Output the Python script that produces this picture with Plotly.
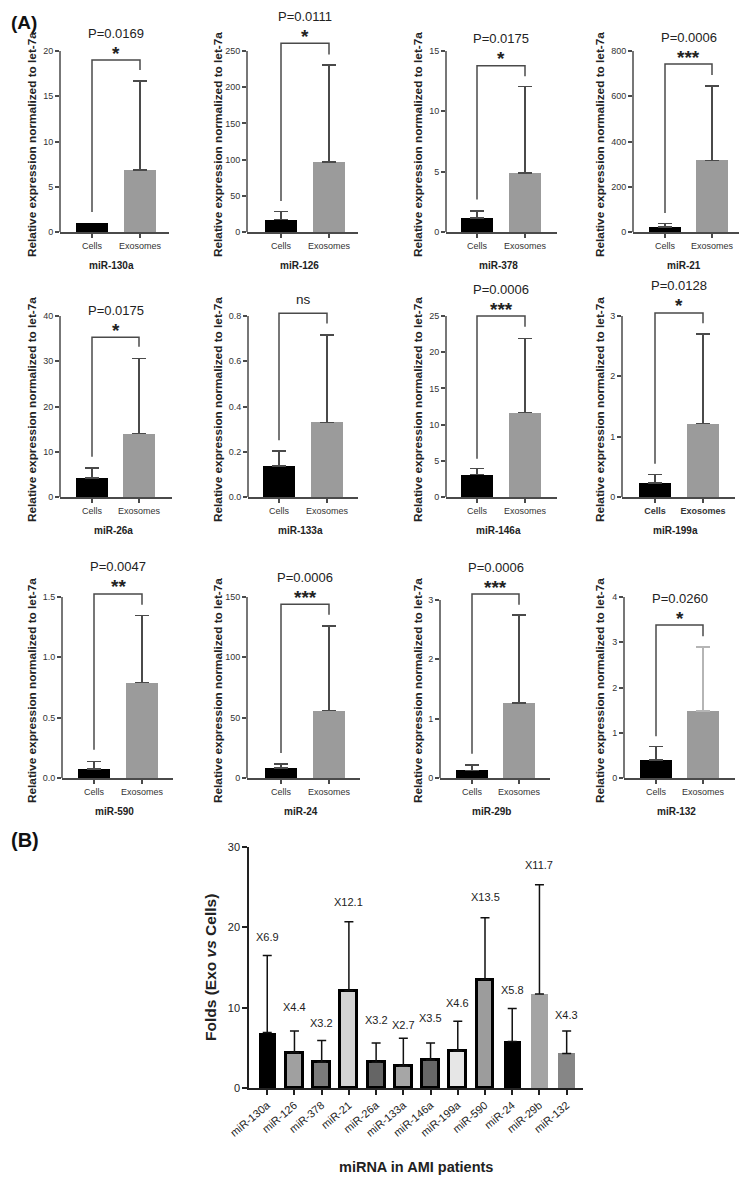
import plotly.graph_objects as go

# ---------------- DATA ----------------
groups = ["Cells", "Exosomes"]
mirnas = ["miR-130a", "miR-126", "miR-378", "miR-21", "miR-26a", "miR-133a",
          "miR-146a", "miR-199a", "miR-590", "miR-24", "miR-29b", "miR-132"]

cells_mean = [1.0, 17.2, 1.16, 22, 4.2, 0.136, 3.1, 0.23, 0.075, 8.3, 0.13, 0.40]
cells_upper = [1.0, 28.2, 1.74, 37, 6.4, 0.204, 3.94, 0.37, 0.138, 11.7, 0.22, 0.70]
exo_mean = [6.85, 96.9, 4.87, 317, 14.0, 0.33, 11.67, 1.22, 0.79, 55.8, 1.26, 1.48]
exo_upper = [16.7, 230.7, 12.07, 645, 30.6, 0.717, 21.9, 2.70, 1.345, 125.8, 2.75, 2.90]

p_values = ["P=0.0169", "P=0.0111", "P=0.0175", "P=0.0006", "P=0.0175", "",
            "P=0.0006", "P=0.0128", "P=0.0047", "P=0.0006", "P=0.0006", "P=0.0260"]
signif = ["*", "*", "*", "***", "*", "ns", "***", "*", "**", "***", "***", "*"]

bracket_top = [19.0, 260.7, 13.78, 742, 35.3, 0.812, 25.0, 3.05, 1.525, 143.9, 3.10, 3.38]
bracket_left_end = [2.2, 42.9, 2.7, 84, 8.9, 0.251, 5.3, 0.55, 0.235, 20.8, 0.41, 0.92]
bracket_right_end = [17.9, 245, 12.9, 694, 33.2, 0.767, 23.5, 2.88, 1.436, 135.3, 2.92, 3.13]

y_ticks = [
    [0, 5, 10, 15, 20],
    [0, 50, 100, 150, 200, 250],
    [0, 5, 10, 15],
    [0, 200, 400, 600, 800],
    [0, 10, 20, 30, 40],
    [0.0, 0.2, 0.4, 0.6, 0.8],
    [0, 5, 10, 15, 20, 25],
    [0, 1, 2, 3],
    [0.0, 0.5, 1.0, 1.5],
    [0, 50, 100, 150],
    [0, 1, 2, 3],
    [0, 1, 2, 3, 4],
]
y_ticktext = [
    ["0", "5", "10", "15", "20"],
    ["0", "50", "100", "150", "200", "250"],
    ["0", "5", "10", "15"],
    ["0", "200", "400", "600", "800"],
    ["0", "10", "20", "30", "40"],
    ["0.0", "0.2", "0.4", "0.6", "0.8"],
    ["0", "5", "10", "15", "20", "25"],
    ["0", "1", "2", "3"],
    ["0.0", "0.5", "1.0", "1.5"],
    ["0", "50", "100", "150"],
    ["0", "1", "2", "3"],
    ["0", "1", "2", "3", "4"],
]

fold_mean = [6.9, 4.4, 3.2, 12.1, 3.2, 2.7, 3.5, 4.6, 13.5, 5.8, 11.7, 4.3]
fold_upper = [16.5, 7.1, 5.9, 20.7, 5.6, 6.2, 5.6, 8.3, 21.2, 9.9, 25.3, 7.1]
fold_labels = ["X6.9", "X4.4", "X3.2", "X12.1", "X3.2", "X2.7",
               "X3.5", "X4.6", "X13.5", "X5.8", "X11.7", "X4.3"]
fold_ticks = [0, 10, 20, 30]

# ---------------- STYLE / LAYOUT ----------------
PAGE_W, PAGE_H = 747, 1181
BODY = 8                      # default page margin around the plot div
W, H = PAGE_W - BODY, PAGE_H - BODY
FONT = "Arial, Liberation Sans, Helvetica, sans-serif"
AX = "#4a4a4a"

def xp(px):
    return (px - BODY) / W

def yp(px):
    return 1 - (px - BODY) / H

# (y-axis px, x-axis end px, cells px, exo px, zero px, top-tick px) in page pixels
geom = [
    (60, 169, 92, 140, 232, 51), (247, 358, 281, 329, 232, 51),
    (446, 557, 477, 525, 232, 51), (633, 740, 665, 712, 232, 51),
    (60, 172, 92, 139, 497, 316), (248, 358, 279, 327, 497, 316),
    (446, 557, 477, 525, 497, 316), (622, 735, 655, 703, 497, 316),
    (62, 173, 94, 142, 778, 597), (247, 360, 281, 329, 778, 597),
    (440, 550, 472, 519, 778, 600), (624, 735, 656, 703, 778, 597),
]
EXT = 1.15
ytitle_x = [32, 218, 418, 600]
ytitle_y = [145, 410, 691]

exo_err_color = [AX] * 11 + ["#b5b5b5"]

fig = go.Figure()
shapes = []
annotations = []

def paper_text(x, y, text, size, angle=0, color="#222"):
    return dict(x=xp(x), y=yp(y), xref="paper", yref="paper", text=text, textangle=angle,
                showarrow=False, xanchor="center", yanchor="middle",
                font=dict(size=size, family=FONT, color=color))

for i in range(12):
    n = i + 1
    xa = "x" if n == 1 else f"x{n}"
    ya = "y" if n == 1 else f"y{n}"
    axp, endp, cp, ep, y0p, ytp = geom[i]
    sp = ep - cp
    r0 = -(cp - axp) / sp
    r1 = 1 + (endp - ep) / sp
    top = y_ticks[i][-1]
    dom_top_px = y0p - (y0p - ytp) * EXT

    fig.add_trace(go.Bar(
        x=[0], y=[cells_mean[i]], width=0.667, marker=dict(color="#000000", line=dict(width=0)),
        error_y=dict(type="data", symmetric=False, array=[cells_upper[i] - cells_mean[i]],
                     arrayminus=[0], color=AX, thickness=1.5, width=7,
                     visible=cells_upper[i] > cells_mean[i]),
        xaxis=xa, yaxis=ya, showlegend=False))
    fig.add_trace(go.Bar(
        x=[1], y=[exo_mean[i]], width=0.667, marker=dict(color="#9b9b9b", line=dict(width=0)),
        error_y=dict(type="data", symmetric=False, array=[exo_upper[i] - exo_mean[i]],
                     arrayminus=[0], color=exo_err_color[i], thickness=1.5, width=7),
        xaxis=xa, yaxis=ya, showlegend=False))

    bold_ticks = (i == 7)
    fig.layout[("xaxis" if n == 1 else f"xaxis{n}")] = dict(
        domain=[xp(axp), xp(endp)], range=[r0, r1], anchor=ya, automargin=False,
        tickvals=[0, 1], ticktext=[f"<b>{g}</b>" if bold_ticks else g for g in groups],
        showline=True, linecolor=AX, linewidth=1.5, ticks="outside", ticklen=4,
        tickwidth=1.5, tickcolor=AX, tickfont=dict(size=9, color="#333", family=FONT),
        showgrid=False, zeroline=False, fixedrange=True)
    fig.layout[("yaxis" if n == 1 else f"yaxis{n}")] = dict(
        domain=[yp(y0p), yp(dom_top_px)], range=[0, top * EXT], anchor=xa, automargin=False,
        tickvals=y_ticks[i], ticktext=y_ticktext[i],
        showline=False, ticks="outside", ticklen=4, tickwidth=1.5, tickcolor=AX,
        tickfont=dict(size=9, color="#333", family=FONT),
        showgrid=False, zeroline=False, fixedrange=True)

    # y axis line only up to the top tick (in axis-domain units, i.e. top / range max)
    shapes.append(dict(type="line", xref=f"{xa} domain", yref=f"{ya} domain",
                       x0=0, x1=0, y0=0, y1=1 / EXT, line=dict(color=AX, width=1.5)))
    # significance bracket
    shapes.append(dict(type="path", xref=xa, yref=ya,
                       path=f"M 0,{bracket_left_end[i]} L 0,{bracket_top[i]} L 1,{bracket_top[i]} L 1,{bracket_right_end[i]}",
                       line=dict(color=AX, width=1.5)))
    if signif[i] == "ns":
        annotations.append(dict(x=0.5, y=bracket_top[i], xref=xa, yref=ya, text="ns",
                                showarrow=False, xanchor="center", yanchor="middle", yshift=14,
                                font=dict(size=13.5, family=FONT, color="#222")))
    else:
        annotations.append(dict(x=0.5, y=bracket_top[i], xref=xa, yref=ya, text=f"<b>{signif[i]}</b>",
                                showarrow=False, xanchor="center", yanchor="middle", yshift=7,
                                font=dict(size=19, family=FONT, color="#222")))
        annotations.append(dict(x=0.5, y=bracket_top[i], xref=xa, yref=ya, text=p_values[i],
                                showarrow=False, xanchor="center", yanchor="middle", yshift=27,
                                font=dict(size=13, family=FONT, color="#222")))
    # x title (miRNA name)
    annotations.append(paper_text((axp + endp) / 2 - 3, y0p + 33, f"<b>{mirnas[i]}</b>", 10))
    # y title
    annotations.append(paper_text(ytitle_x[i % 4], ytitle_y[i // 4],
                                  "<b>Relative expression normalized to let-7a</b>", 11.8, angle=-90))

# ---------------- PANEL B ----------------
fold_fill = ["#000000", "#a0a0a0", "#7a7a7a", "#d4d4d4", "#656565", "#a6a6a6",
             "#666666", "#e6e6e6", "#9c9c9c", "#000000", "#a4a4a4", "#868686"]
fold_border = [0, 3, 3, 3, 3, 3, 3, 3, 3, 0, 0, 0]
label_yshift = [18, 24, 18, 20, 23, 13, 25, 18, 21, 18, 20, 16]

fig.add_trace(go.Bar(
    x=mirnas, y=fold_mean, width=0.62,
    marker=dict(color=fold_fill, line=dict(color="#000000", width=fold_border)),
    error_y=dict(type="data", symmetric=False,
                 array=[u - m for u, m in zip(fold_upper, fold_mean)],
                 arrayminus=[0] * 12, color="#111", thickness=1.5, width=4.5),
    xaxis="x13", yaxis="y13", showlegend=False))

fig.layout.xaxis13 = dict(domain=[xp(249), xp(583)], range=[-0.67, 11.6], anchor="y13",
                          type="category", tickangle=-40, showline=True, linecolor="#222",
                          automargin=False,
                          linewidth=1.5, ticks="outside", ticklen=5, tickwidth=1.5, tickcolor="#222",
                          tickfont=dict(size=11, color="#222", family=FONT),
                          showgrid=False, zeroline=False, fixedrange=True)
fig.layout.yaxis13 = dict(domain=[yp(1088), yp(847)], range=[0, 30], anchor="x13",
                          automargin=False,
                          tickvals=fold_ticks, showline=True, linecolor="#222", linewidth=1.5,
                          ticks="outside", ticklen=5, tickwidth=1.5, tickcolor="#222",
                          tickfont=dict(size=11, color="#222", family=FONT),
                          showgrid=False, zeroline=False, fixedrange=True)

for k in range(12):
    annotations.append(dict(x=mirnas[k], y=fold_upper[k], xref="x13", yref="y13", text=fold_labels[k],
                            showarrow=False, xanchor="center", yanchor="middle", yshift=label_yshift[k],
                            font=dict(size=11, family=FONT, color="#222")))

annotations.append(paper_text(210, 968, "<b>Folds (Exo <i>vs</i> Cells)</b>", 15.5, angle=-90))
annotations.append(paper_text(416, 1167, "<b>miRNA in AMI patients</b>", 14.5))
annotations.append(paper_text(24, 22, "<b>(A)</b>", 19, color="#111"))
annotations.append(paper_text(25, 840, "<b>(B)</b>", 20, color="#111"))

fig.update_layout(width=W, height=H, margin=dict(l=0, r=0, t=0, b=0, autoexpand=False),
                  paper_bgcolor="white", plot_bgcolor="white", bargap=0,
                  shapes=shapes, annotations=annotations, font=dict(family=FONT))

fig.write_html("out.html")
